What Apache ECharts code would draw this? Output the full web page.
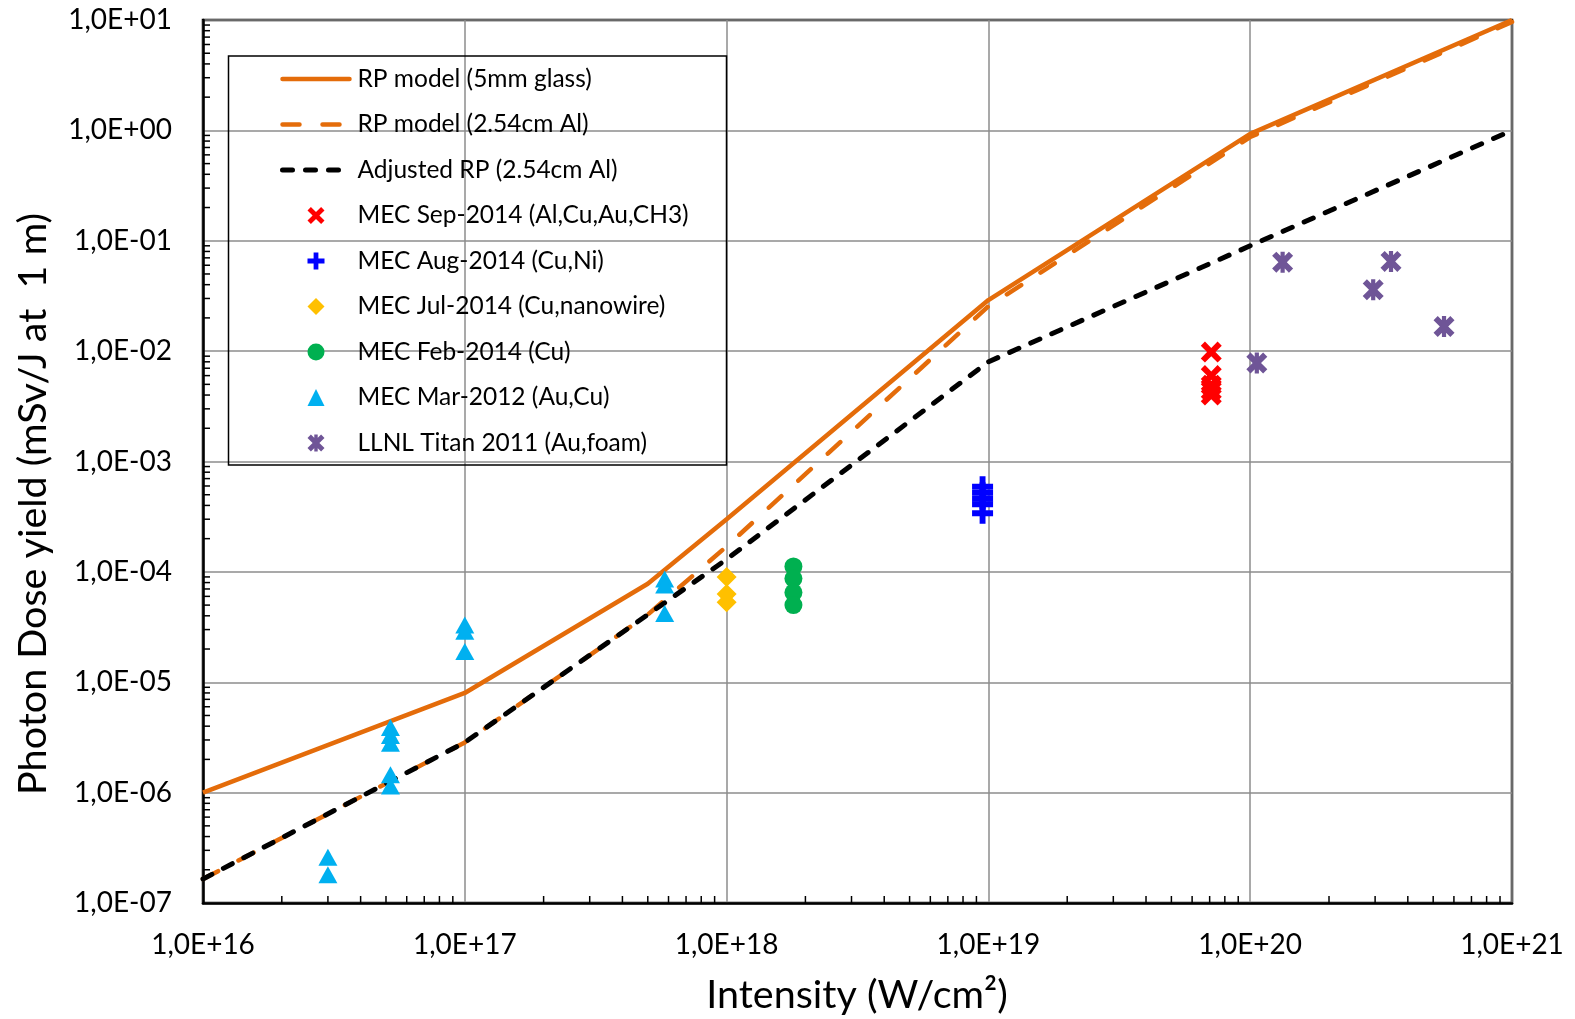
<!DOCTYPE html>
<html>
<head>
<meta charset="utf-8">
<style>
  html, body { margin: 0; padding: 0; background: #fff; }
  #chart { width: 1575px; height: 1019px; }
</style>
<script src="https://cdn.jsdelivr.net/npm/echarts@6/dist/echarts.min.js"></script>
</head>
<body>
<div id="chart"></div>
<script>
// Model curves: laser intensity (W/cm2) vs photon dose yield (mSv/J at 1 m)
const modelIntensity = [1e16, 1e17, 5e17, 1e18, 1e19, 1e20, 1e21];
const rpGlass        = [1.0e-6, 8.0e-6, 7.8e-5, 3.0e-4, 2.9e-2, 0.93, 10];
const rpAl           = [1.65e-7, 2.85e-6, 4.1e-5, 1.7e-4, 2.55e-2, 0.87, 9.6];
const rpAdjusted     = [1.65e-7, 2.85e-6, 4.1e-5, 1.3e-4, 8.0e-3, 0.09, 1.0];

// Measurements
const mecSep2014 = [[7.1e19, 9.8e-3], [7.1e19, 6.0e-3], [7.1e19, 4.9e-3], [7.1e19, 4.4e-3], [7.1e19, 4.0e-3]];
const mecAug2014 = [[9.5e18, 5.9e-4], [9.5e18, 5.2e-4], [9.5e18, 4.6e-4], [9.5e18, 4.1e-4], [9.5e18, 3.4e-4]];
const mecJul2014 = [[1.0e18, 9.0e-5], [1.0e18, 6.3e-5], [1.0e18, 5.3e-5]];
const mecFeb2014 = [[1.8e18, 1.12e-4], [1.8e18, 8.7e-5], [1.8e18, 6.5e-5], [1.8e18, 5.0e-5]];
const mecMar2012 = [
  [3.0e16, 2.6e-7], [3.0e16, 1.8e-7],
  [5.2e16, 3.9e-6], [5.2e16, 3.3e-6], [5.2e16, 2.8e-6], [5.2e16, 1.45e-6], [5.2e16, 1.15e-6],
  [1.0e17, 3.3e-5], [1.0e17, 2.9e-5], [1.0e17, 1.9e-5],
  [5.8e17, 8.6e-5], [5.8e17, 7.6e-5], [5.8e17, 4.2e-5]
];
const llnlTitan2011 = [[1.06e20, 7.8e-3], [1.33e20, 6.4e-2], [2.95e20, 3.6e-2], [3.45e20, 6.5e-2], [5.5e20, 1.67e-2]];

const X_MIN = 1e16, X_MAX = 1e21;
const Y_MIN = 1e-7, Y_MAX = 1e1;

const lineNames = [
  'RP model (5mm glass)',
  'RP model (2.54cm Al)',
  'Adjusted RP (2.54cm Al)'
];
const pointNames = [
  'MEC Sep-2014 (Al,Cu,Au,CH3)',
  'MEC Aug-2014 (Cu,Ni)',
  'MEC Jul-2014 (Cu,nanowire)',
  'MEC Feb-2014 (Cu)',
  'MEC Mar-2012 (Au,Cu)',
  'LLNL Titan 2011 (Au,foam)'
];

const ORANGE = '#E46C0A';
const FONT = 'Lato';

const crossPath    = 'path://M20,0 L50,30 L80,0 L100,20 L70,50 L100,80 L80,100 L50,70 L20,100 L0,80 L30,50 L0,20 Z';
const plusPath     = 'path://M36,0 L64,0 L64,36 L100,36 L100,64 L64,64 L64,100 L36,100 L36,64 L0,64 L0,36 L36,36 Z';
const starPath     = 'path://M20,0 L50,30 L80,0 L100,20 L70,50 L100,80 L80,100 L50,70 L20,100 L0,80 L30,50 L0,20 Z M40,0 L60,0 L60,100 L40,100 Z';
const diamondPath  = 'path://M50,0 L100,50 L50,100 L0,50 Z';
const trianglePath = 'path://M50,0 L100,100 L0,100 Z';

function sciLabel(v) {
  const e = Math.round(Math.log10(v));
  return '1,0E' + (e < 0 ? '-' : '+') + String(Math.abs(e)).padStart(2, '0');
}

function zip(xs, ys) { return xs.map((x, i) => [x, ys[i]]); }

// minor tick positions at 2..9 of every decade
function minorTicks(lo, hi) {
  const out = [];
  for (let e = lo; e < hi; e++) for (let k = 2; k <= 9; k++) out.push(k * Math.pow(10, e));
  return out;
}
const xMinor = minorTicks(16, 21).map(v => [v, Y_MIN]);
const yMinor = minorTicks(-7, 1).map(v => [X_MIN, v]);

function lineSeries(name, data, style) {
  return {
    name, type: 'line', data, symbol: 'none', showSymbol: false,
    lineStyle: Object.assign({ width: 4.5 }, style),
    itemStyle: { color: style.color },
    z: 3, animation: false
  };
}

function scatterSeries(name, data, symbol, size, color) {
  return {
    name, type: 'scatter', data, symbol, symbolSize: size,
    itemStyle: { color, opacity: 1 }, z: 4, animation: false
  };
}

const legendData = lineNames.map((name, i) => ({
  name,
  itemStyle: { opacity: 0 },
  lineStyle: { width: i === 2 ? 5 : 4.5, cap: 'round' }
})).concat(pointNames.map(name => ({ name })));

const chart = echarts.init(document.getElementById('chart'), null, { renderer: 'canvas' });

chart.setOption({
  backgroundColor: '#fff',
  animation: false,
  textStyle: { fontFamily: FONT },
  grid: {
    left: 203, right: 63, top: 20, bottom: 116,
    show: true, borderColor: '#000', borderWidth: 2.5, backgroundColor: 'transparent'
  },
  xAxis: {
    type: 'log', logBase: 10, min: X_MIN, max: X_MAX, splitNumber: 5,
    axisLine: { show: true, lineStyle: { color: '#000', width: 2.5 } },
    axisTick: { show: false },
    splitLine: { show: true, lineStyle: { color: '#8c8c8c', width: 1.5 } },
    axisLabel: { formatter: sciLabel, color: '#000', fontSize: 28, fontFamily: FONT, margin: 28 }
  },
  yAxis: {
    type: 'log', logBase: 10, min: Y_MIN, max: Y_MAX, splitNumber: 8,
    axisLine: { show: true, lineStyle: { color: '#000', width: 2.5 } },
    axisTick: { show: false },
    splitLine: { show: true, lineStyle: { color: '#8c8c8c', width: 1.5 } },
    axisLabel: { formatter: sciLabel, color: '#000', fontSize: 28, fontFamily: FONT, margin: 31 }
  },
  legend: {
    orient: 'vertical', left: 280, top: 66, padding: 0,
    itemWidth: 67, itemHeight: 17, itemGap: 19.5,
    data: legendData,
    textStyle: { fontSize: 24.5, fontFamily: FONT, color: '#000', lineHeight: 26, padding: [0, 0, 0, 3] },
    inactiveColor: '#ccc'
  },
  graphic: [
    {
      type: 'rect', z: 10,
      shape: { x: 228.5, y: 56, width: 498, height: 409 },
      style: { fill: 'rgba(255,255,255,0)', stroke: '#000', lineWidth: 1.5 }, silent: true
    },
    {
      type: 'text', x: 33, y: 504, rotation: Math.PI / 2,
      style: { text: 'Photon Dose yield (mSv/J at  1 m)', font: '39.5px ' + FONT, fill: '#000', align: 'center', verticalAlign: 'middle' }
    },
    {
      type: 'text', x: 857, y: 995,
      style: { text: 'Intensity (W/cm²)', font: '39.5px ' + FONT, fill: '#000', align: 'center', verticalAlign: 'middle' }
    }
  ],
  series: [
    // minor ticks drawn inside the plot frame
    {
      type: 'custom', silent: true, z: 5, data: xMinor, encode: { x: 0, y: 1 },
      renderItem: (params, api) => {
        const p = api.coord([api.value(0), api.value(1)]);
        return { type: 'line', shape: { x1: p[0], y1: p[1], x2: p[0], y2: p[1] - 7 }, style: { stroke: '#000', lineWidth: 1.5 } };
      }
    },
    {
      type: 'custom', silent: true, z: 5, data: yMinor, encode: { x: 0, y: 1 },
      renderItem: (params, api) => {
        const p = api.coord([api.value(0), api.value(1)]);
        return { type: 'line', shape: { x1: p[0], y1: p[1], x2: p[0] + 7, y2: p[1] }, style: { stroke: '#000', lineWidth: 1.5 } };
      }
    },
    lineSeries(lineNames[0], zip(modelIntensity, rpGlass), { color: ORANGE, width: 4.5 }),
    lineSeries(lineNames[1], zip(modelIntensity, rpAl), { color: ORANGE, width: 4.5, type: [17, 23], cap: 'round' }),
    lineSeries(lineNames[2], zip(modelIntensity, rpAdjusted), { color: '#000', width: 5, type: [10, 13], cap: 'round' }),
    scatterSeries(pointNames[0], mecSep2014, crossPath, 21, '#FF0000'),
    scatterSeries(pointNames[1], mecAug2014, plusPath, 21, '#0000FF'),
    scatterSeries(pointNames[2], mecJul2014, diamondPath, 20, '#FFC000'),
    scatterSeries(pointNames[3], mecFeb2014, 'circle', 18, '#00B050'),
    scatterSeries(pointNames[4], mecMar2012, trianglePath, [19, 17], '#00B0F0'),
    scatterSeries(pointNames[5], llnlTitan2011, starPath, 21, '#6F5597')
  ]
});
</script>
</body>
</html>
